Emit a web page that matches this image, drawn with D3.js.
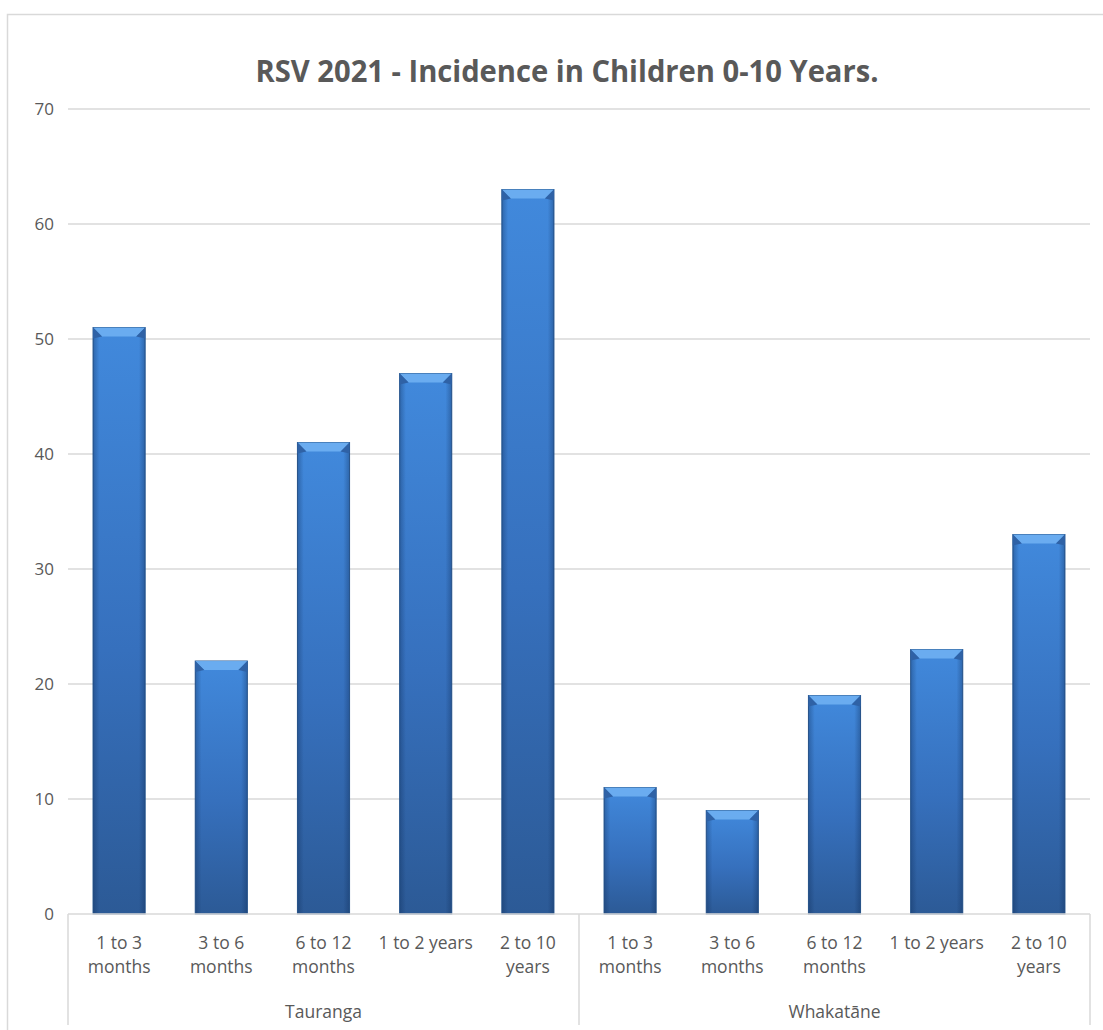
<!DOCTYPE html>
<html>
<head>
<meta charset="utf-8">
<script src="https://cdn.jsdelivr.net/npm/d3@7"></script>
<style>
  body { margin: 0; background: #fff; }
  svg { display: block; font-family: "Open Sans", "Liberation Sans", sans-serif; }
</style>
</head>
<body>
<div id="chart"></div>
<script>
// ── Data ───────────────────────────────────────────────────────────────
const TITLE = "RSV 2021 - Incidence in Children 0-10 Years.";
const groups = ["Tauranga", "Whakatāne"];
const ageBands = [
  ["1 to 3", "months"],
  ["3 to 6", "months"],
  ["6 to 12", "months"],
  ["1 to 2 years"],
  ["2 to 10", "years"]
];
const taurangaValues  = [51, 22, 41, 47, 63];
const whakataneValues = [11, 9, 19, 23, 33];
const yTicks = [0, 10, 20, 30, 40, 50, 60, 70];

const W = 1103, H = 1030;
const margin = { top: 109, right: 13, bottom: 116, left: 68 };
const width  = W - margin.left - margin.right;
const height = H - margin.top - margin.bottom;

// flatten into one row per bar
const rows = [];
groups.forEach((g, gi) => {
  const vals = gi === 0 ? taurangaValues : whakataneValues;
  ageBands.forEach((lab, i) => rows.push({ key: gi + "_" + i, group: g, lines: lab, value: vals[i] }));
});

const svg = d3.select("#chart").append("svg")
  .attr("width", W).attr("height", H);

// ── Defs: bar gradients ────────────────────────────────────────────────
const defs = svg.append("defs");
const vg = defs.append("linearGradient").attr("id", "barV")
  .attr("x1", 0).attr("y1", 0).attr("x2", 0).attr("y2", 1);
vg.append("stop").attr("offset", "0%").attr("stop-color", "#4189dc");
vg.append("stop").attr("offset", "55%").attr("stop-color", "#3670bd");
vg.append("stop").attr("offset", "100%").attr("stop-color", "#2c5a96");

const hg = defs.append("linearGradient").attr("id", "barH")
  .attr("x1", 0).attr("y1", 0).attr("x2", 1).attr("y2", 0);
hg.append("stop").attr("offset", "0%").attr("stop-color", "#0d2a55").attr("stop-opacity", 0.35);
hg.append("stop").attr("offset", "12%").attr("stop-color", "#0d2a55").attr("stop-opacity", 0);
hg.append("stop").attr("offset", "88%").attr("stop-color", "#0d2a55").attr("stop-opacity", 0);
hg.append("stop").attr("offset", "100%").attr("stop-color", "#0d2a55").attr("stop-opacity", 0.35);

// outer frame
svg.append("rect")
  .attr("x", 7.5).attr("y", 14.5).attr("width", W).attr("height", H)
  .attr("fill", "none").attr("stroke", "#d9d9d9").attr("stroke-width", 1.5);

// title
svg.append("text")
  .attr("x", 567).attr("y", 82)
  .attr("text-anchor", "middle")
  .attr("textLength", 623).attr("lengthAdjust", "spacingAndGlyphs")
  .style("font-size", "30px").style("font-weight", "700").style("fill", "#595959")
  .text(TITLE);

const g = svg.append("g").attr("transform", `translate(${margin.left},${margin.top})`);

// ── Scales ─────────────────────────────────────────────────────────────
const x = d3.scaleBand()
  .domain(rows.map(d => d.key))
  .range([0, width])
  .paddingInner(0.49).paddingOuter(0.245);

const y = d3.scaleLinear().domain([0, 70]).range([height, 0]);

// grid
g.append("g").selectAll("line")
  .data(yTicks.filter(t => t > 0))
  .join("line")
  .attr("x1", 0).attr("x2", width)
  .attr("y1", d => y(d)).attr("y2", d => y(d))
  .attr("stroke", "#d9d9d9").attr("stroke-width", 1.5);

// y axis labels
g.append("g").selectAll("text")
  .data(yTicks)
  .join("text")
  .attr("x", -14).attr("y", d => y(d))
  .attr("dy", "0.35em")
  .attr("text-anchor", "end")
  .style("font-size", "17px").style("fill", "#595959")
  .text(d => d);

// ── Bars ───────────────────────────────────────────────────────────────
const bars = g.append("g").selectAll("g")
  .data(rows).join("g");

bars.append("rect")
  .attr("x", d => x(d.key)).attr("y", d => y(d.value))
  .attr("width", x.bandwidth()).attr("height", d => height - y(d.value))
  .attr("fill", "url(#barV)")
  .attr("stroke", "#2a5a93").attr("stroke-width", 1);

bars.append("rect")
  .attr("x", d => x(d.key)).attr("y", d => y(d.value))
  .attr("width", x.bandwidth()).attr("height", d => height - y(d.value))
  .attr("fill", "url(#barH)");

// bevelled top
const bev = 9;
bars.append("polygon")
  .attr("points", d => {
    const x0 = x(d.key), x1 = x0 + x.bandwidth(), y0 = y(d.value);
    return [[x0, y0], [x1, y0], [x1 - bev, y0 + bev], [x0 + bev, y0 + bev]].join(" ");
  })
  .attr("fill", "#6fb0f2").attr("opacity", 0.9);
bars.append("polygon")
  .attr("points", d => {
    const x0 = x(d.key), y0 = y(d.value);
    return [[x0, y0], [x0 + bev, y0 + bev], [x0, y0 + bev + 2]].join(" ");
  })
  .attr("fill", "#2f62a6");
bars.append("polygon")
  .attr("points", d => {
    const x1 = x(d.key) + x.bandwidth(), y0 = y(d.value);
    return [[x1, y0], [x1 - bev, y0 + bev], [x1, y0 + bev + 2]].join(" ");
  })
  .attr("fill", "#2f62a6");

// ── X axis ─────────────────────────────────────────────────────────────
const axisCol = "#d9d9d9";
g.append("line")
  .attr("x1", 0).attr("x2", width).attr("y1", height).attr("y2", height)
  .attr("stroke", axisCol).attr("stroke-width", 1.5);

const groupEdges = [0, width / 2, width];
g.append("g").selectAll("line")
  .data(groupEdges).join("line")
  .attr("x1", d => d).attr("x2", d => d)
  .attr("y1", height).attr("y2", H - margin.top - 5)
  .attr("stroke", axisCol).attr("stroke-width", 1.5);

const catLabels = g.append("g").selectAll("text")
  .data(rows).join("text")
  .attr("x", d => x(d.key) + x.bandwidth() / 2)
  .attr("y", height + 35)
  .attr("text-anchor", "middle")
  .style("font-size", "17.5px").style("fill", "#595959");
catLabels.selectAll("tspan")
  .data(d => d.lines.map(l => ({ l, cx: x(d.key) + x.bandwidth() / 2 })))
  .join("tspan")
  .attr("x", d => d.cx)
  .attr("dy", (d, i) => i === 0 ? 0 : 24)
  .text(d => d.l);

g.append("g").selectAll("text")
  .data(groups).join("text")
  .attr("x", (d, i) => (groupEdges[i] + groupEdges[i + 1]) / 2)
  .attr("y", height + 104)
  .attr("text-anchor", "middle")
  .style("font-size", "17.5px").style("fill", "#595959")
  .text(d => d);
</script>
</body>
</html>
